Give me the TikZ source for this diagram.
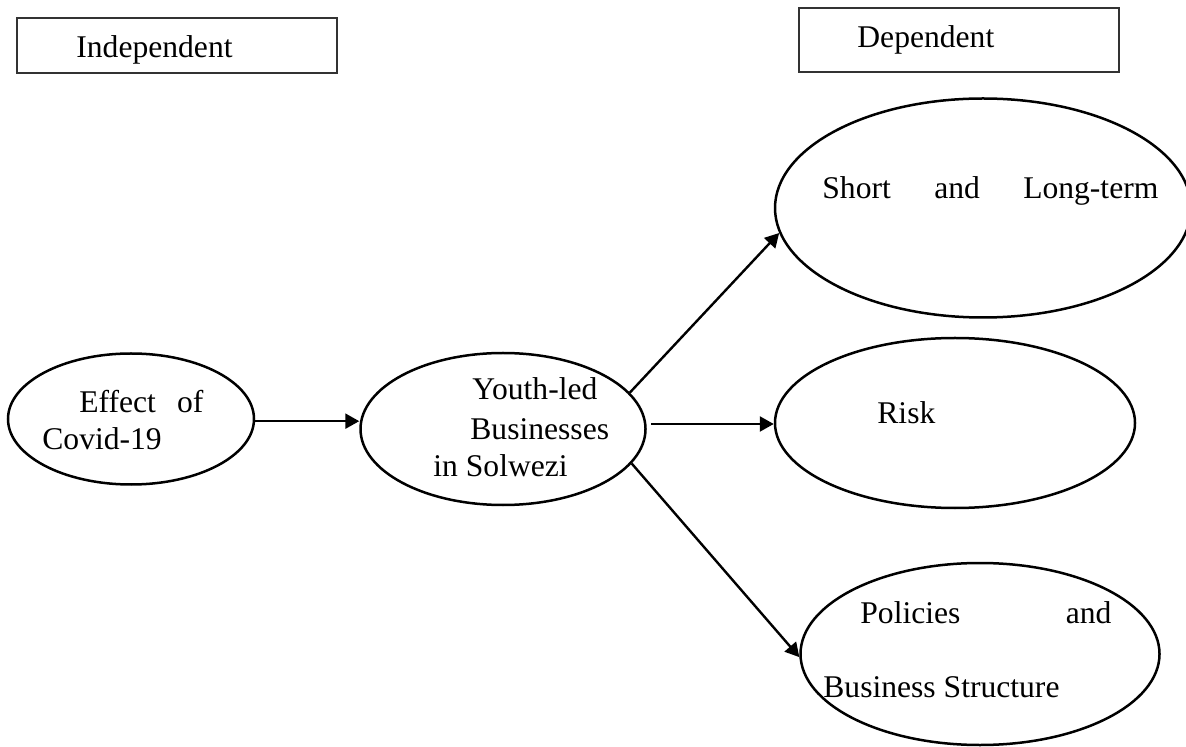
\documentclass[tikz,border=0pt]{standalone}
\usepackage{fontspec}
\setmainfont{Liberation Serif}
\usetikzlibrary{shapes.geometric,arrows.meta}

\tikzset{
	var/.style={ellipse, draw=black, line width=1.25pt, inner sep=0pt},
	head/.style={rectangle, draw=black!80, line width=0.8pt, inner sep=0pt},
	txt/.style={anchor=base west, inner sep=0pt, font=\fontsize{15.8}{19}\selectfont},
	arr/.style={line width=1.2pt, -{Triangle[length=7pt,width=7.5pt]}}
}

\begin{document}
\begin{tikzpicture}[x=0.5pt, y=-0.5pt]
		\useasboundingbox (0,0) rectangle (1186,747);
		% headings
		\node[head, minimum width=160pt, minimum height=27.5pt] (indep) at (177,45.5) {};
		\node[txt] (indeptxt) at (76,58) {Independent};
		\node[head, minimum width=160pt, minimum height=32pt] (dep) at (959,40) {};
		\node[txt] (deptxt) at (857,48) {Dependent};
		% variables
		\node[var, minimum width=123pt, minimum height=65.5pt] (effect) at (131,419) {};
		\node[var, minimum width=142.5pt, minimum height=76pt] (youth) at (503,429) {};
		\node[var, minimum width=208pt, minimum height=109.5pt] (short) at (983,208) {};
		\node[var, minimum width=180pt, minimum height=85pt] (risk) at (955,423) {};
		\node[var, minimum width=179.5pt, minimum height=91pt] (policies) at (980,654) {};
		% texts
		\node[txt] (effect1) at (79,413) {\makebox[62pt][s]{Effect\hfill of}};
		\node[txt] (effect2) at (42,450) {Covid-19};
		\node[txt] (youth1) at (472,400) {Youth-led};
		\node[txt] (youth2) at (470,440) {Businesses};
		\node[txt] (youth3) at (433,477) {in Solwezi};
		\node[txt] (short1) at (822,199) {\makebox[168pt][s]{Short\hfill and\hfill Long-term}};
		\node[txt] (risk1) at (877,424) {Risk};
		\node[txt] (policies1) at (860,623) {\makebox[125.5pt][s]{Policies\hfill and}};
		\node[txt] (policies2) at (823,697) {Business Structure};
		% links
		\draw[arr] (effect.-1) -- (effect.-1 -| youth.west);
		\draw[arr] (youth.16) -- (short.187);
		\draw[arr] ([xshift=2.5pt]youth.2) -- (youth.2 -| risk.west);
		\draw[arr] (youth.-15) -- (policies.181);
	\end{tikzpicture}
\end{document}
